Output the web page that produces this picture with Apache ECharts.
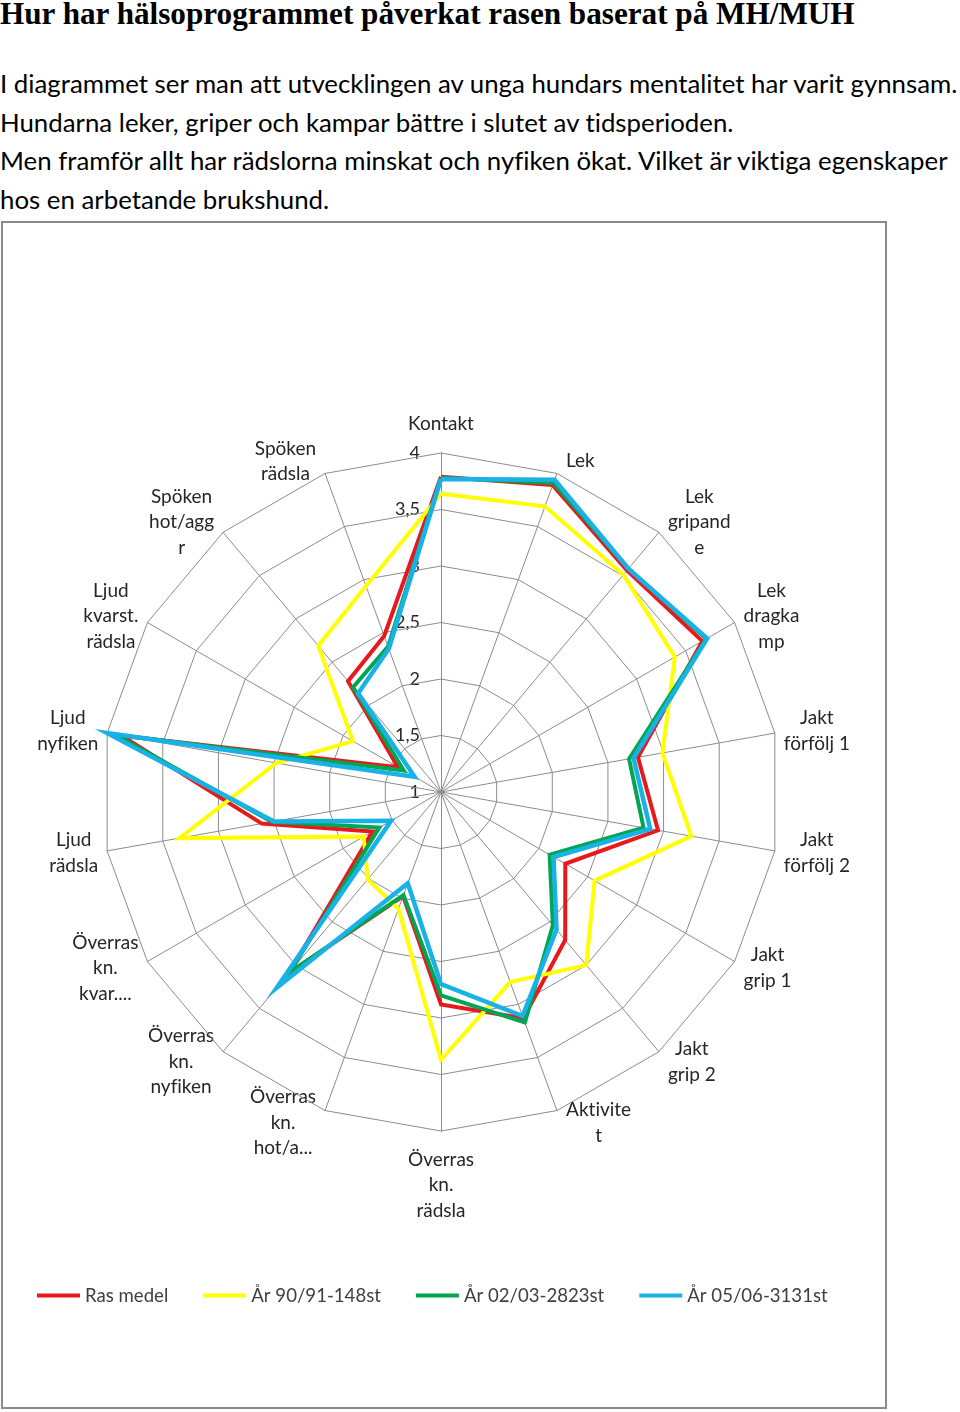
<!DOCTYPE html>
<html><head><meta charset="utf-8">
<script src="https://cdn.jsdelivr.net/npm/echarts@6/dist/echarts.min.js"></script>
<style>
html,body{margin:0;padding:0;background:#fff;width:960px;height:1412px;overflow:hidden;font-variant-ligatures:none;font-feature-settings:"liga" 0,"clig" 0;}
#title{position:absolute;left:0;top:-1px;font-family:'Liberation Serif',serif;font-weight:bold;font-size:29px;white-space:nowrap;line-height:30px;color:#000}
.p{position:absolute;left:0;font-family:Lato,sans-serif;font-size:24px;white-space:nowrap;line-height:30px;color:#000;font-variant-ligatures:none;font-feature-settings:"liga" 0,"clig" 0;}
#frame{position:absolute;left:1px;top:221px;width:882px;height:1184px;border:2px solid #8a8a8a;}
#chart{position:absolute;left:0;top:0;width:960px;height:1412px;}
</style></head>
<body>
<div id="title">Hur har hälsoprogrammet påverkat rasen baserat på MH/MUH</div>
<div class="p" id="l1" style="top:68px">I diagrammet ser man att utvecklingen av unga hundars mentalitet har varit gynnsam.</div>
<div class="p" id="l2" style="top:107px">Hundarna leker, griper och kampar bättre i slutet av tidsperioden.</div>
<div class="p" id="l3" style="top:145px">Men framför allt har rädslorna minskat och nyfiken ökat. Vilket är viktiga egenskaper</div>
<div class="p" id="l4" style="top:184px">hos en arbetande brukshund.</div>
<div id="frame"></div>
<div id="chart"></div>
<script>
// ---- data (clockwise from the top) ----
const categories = ['Kontakt','Lek','Lek\ngripand\ne','Lek\ndragka\nmp','Jakt\nförfölj 1','Jakt\nförfölj 2','Jakt\ngrip 1','Jakt\ngrip 2','Aktivite\nt','Överras\nkn.\nrädsla','Överras\nkn.\nhot/a...','Överras\nkn.\nnyfiken','Överras\nkn.\nkvar....','Ljud\nrädsla','Ljud\nnyfiken','Ljud\nkvarst.\nrädsla','Spöken\nhot/agg\nr','Spöken\nrädsla'];
const seriesNames = ['Ras medel','År 90/91-148st','År 02/03-2823st','År 05/06-3131st'];
const rasMedel = [3.79,3.89,3.56,3.67,2.77,2.95,2.27,2.71,3.13,2.88,1.98,3.09,1.70,2.61,3.87,1.44,2.28,2.47];
const ar9091   = [3.64,3.69,3.51,3.39,2.99,3.25,2.57,3.00,2.79,3.37,2.10,2.01,1.79,3.35,2.48,1.90,2.69,2.94];
const ar0203   = [3.78,3.91,3.58,3.71,2.69,2.82,2.11,2.54,3.17,2.80,1.97,3.08,1.63,2.52,3.93,1.38,2.21,2.37];
const ar0506   = [3.77,3.94,3.58,3.72,2.73,2.88,2.15,2.59,3.11,2.70,1.86,3.26,1.51,2.50,4.00,1.27,2.14,2.35];
const tickLabels = ['1','1,5','2','2,5','3','3,5','4'];
const axisMin = 1, axisMax = 4;

// ---- text fitting ----
function fit(id, target){const el=document.getElementById(id);const fs=parseFloat(getComputedStyle(el).fontSize);const w=el.getBoundingClientRect().width;el.style.fontSize=(fs*target/w)+'px';}
fit('title',855);
fit('l1',958);
const fsBody=getComputedStyle(document.getElementById('l1')).fontSize;
['l2','l3','l4'].forEach(id=>document.getElementById(id).style.fontSize=fsBody);

// ---- layout ----
const CX=441, CY=792, R=339;
const colors=['#E8191E','#FFFF00','#00A651','#19B2E6'];
const widths=[4,4,4,4.5];
const labelFont='19px Lato';
const ctx=document.createElement('canvas').getContext('2d');ctx.font=labelFont;

// ECharts radar goes counter-clockwise: reorder (keep first, reverse the rest)
const reorder=a=>[a[0]].concat(a.slice(1).reverse());
const values=[rasMedel,ar9091,ar0203,ar0506];

const chart=echarts.init(document.getElementById('chart'),null,{renderer:'canvas'});
const graphics=[];
categories.forEach((name,i)=>{
  const th=i*Math.PI*2/categories.length;
  const s=Math.sin(th), c=Math.cos(th);
  const vx=CX+R*s, vy=CY-R*c;
  const lines=name.split('\n');
  const w=Math.max(...lines.map(l=>ctx.measureText(l).width));
  const h=lines.length*25.5;
  let x,y;
  if(Math.abs(s)<0.01){x=vx;y=vy-c*(h/2+16);}
  else{x=vx+Math.sign(s)*(9+w/2);y=vy-c*13;}
  graphics.push({type:'text',x:x,y:y,style:{text:name,font:labelFont,fill:'#262626',align:'center',verticalAlign:'middle',lineHeight:25.5},silent:true});
});
tickLabels.forEach((t,k)=>{
  const v=axisMin+k*(axisMax-axisMin)/(tickLabels.length-1);
  graphics.push({type:'text',x:CX-21,y:CY-(v-axisMin)/(axisMax-axisMin)*R,style:{text:t,font:'18px Lato',fill:'#262626',align:'right',verticalAlign:'middle'},silent:true});
});

chart.setOption({
  animation:false,
  legend:{left:37,top:1286,padding:0,itemWidth:43,itemHeight:4,itemGap:35,icon:'rect',
    textStyle:{fontFamily:'Lato',fontSize:18.6,color:'#404040'},data:seriesNames},
  radar:{center:[CX,CY],radius:R,shape:'polygon',splitNumber:6,startAngle:90,
    indicator:reorder(categories).map(n=>({name:n,min:axisMin,max:axisMax})),
    axisName:{show:false},
    axisLine:{lineStyle:{color:'#8c8c8c',width:1}},
    splitLine:{lineStyle:{color:'#8c8c8c',width:1}},
    splitArea:{show:false},axisTick:{show:false},axisLabel:{show:false}},
  series:[{type:'radar',symbol:'none',
    data:values.map((v,k)=>({name:seriesNames[k],value:reorder(v),
      lineStyle:{color:colors[k],width:widths[k],join:'miter'},itemStyle:{color:colors[k]}}))}],
  graphic:graphics
});
</script>
</body></html>
